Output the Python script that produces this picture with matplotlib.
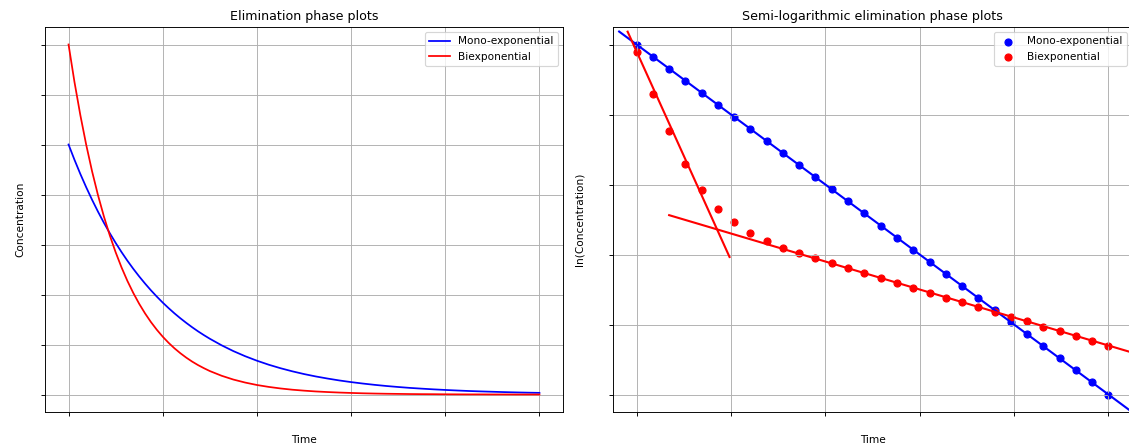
import numpy as np
import matplotlib.pyplot as plt

plt.rcParams['font.size'] = 9
plt.rcParams['axes.titlesize'] = 10.8

# concentration-time curves (linear scale)
time_curve = [0.0, 0.125, 0.25, 0.375, 0.5, 0.625, 0.75, 0.875, 1.0, 1.125, 1.25, 1.375,
              1.5, 1.625, 1.75, 1.875, 2.0, 2.125, 2.25, 2.375, 2.5, 2.625, 2.75, 2.875,
              3.0, 3.25, 3.5, 3.75, 4.0, 4.25, 4.5, 4.75, 5.0, 5.25, 5.5, 5.75, 6.0, 6.25,
              6.5, 6.75, 7.0, 7.25, 7.5, 7.75, 8.0, 8.25, 8.5, 8.75, 9.0, 9.25, 9.5, 9.75,
              10.0]
mono_conc = [5.000, 4.697, 4.412, 4.145, 3.894, 3.658, 3.436, 3.228, 3.033, 2.849, 2.676,
             2.514, 2.362, 2.219, 2.084, 1.958, 1.839, 1.728, 1.623, 1.525, 1.433, 1.346,
             1.264, 1.188, 1.116, 0.985, 0.869, 0.767, 0.677, 0.597, 0.527, 0.465, 0.410,
             0.362, 0.320, 0.282, 0.249, 0.220, 0.194, 0.171, 0.151, 0.133, 0.118, 0.104,
             0.092, 0.081, 0.071, 0.063, 0.056, 0.049, 0.043, 0.038, 0.034]
bi_conc = [7.000, 6.255, 5.590, 4.995, 4.463, 3.988, 3.564, 3.185, 2.846, 2.543, 2.272,
           2.031, 1.815, 1.622, 1.449, 1.295, 1.157, 1.034, 0.924, 0.826, 0.738, 0.659,
           0.589, 0.527, 0.470, 0.376, 0.300, 0.240, 0.191, 0.153, 0.122, 0.097, 0.078,
           0.062, 0.050, 0.040, 0.032, 0.025, 0.020, 0.016, 0.013, 0.010, 0.008, 0.007,
           0.005, 0.004, 0.003, 0.003, 0.002, 0.002, 0.001, 0.001, 0.001]

# sampled points, ln(concentration)
time_pts = [0.0, 0.34, 0.69, 1.03, 1.38, 1.72, 2.07, 2.41, 2.76, 3.10, 3.45, 3.79, 4.14, 4.48,
            4.83, 5.17, 5.52, 5.86, 6.21, 6.55, 6.90, 7.24, 7.59, 7.93, 8.28, 8.62, 8.97,
            9.31, 9.66, 10.0]
mono_ln = [2.000, 1.828, 1.655, 1.483, 1.310, 1.138, 0.966, 0.793, 0.621, 0.448, 0.276,
           0.103, -0.069, -0.241, -0.414, -0.586, -0.759, -0.931, -1.103, -1.276, -1.448,
           -1.621, -1.793, -1.966, -2.138, -2.310, -2.483, -2.655, -2.828, -3.000]
bi_ln = [1.886, 1.292, 0.761, 0.295, -0.075, -0.346, -0.540, -0.692, -0.802, -0.902,
         -0.973, -1.053, -1.124, -1.191, -1.266, -1.333, -1.409, -1.476, -1.543, -1.618,
         -1.685, -1.751, -1.822, -1.889, -1.956, -2.031, -2.098, -2.160, -2.241, -2.302]

# fitted lines: (intercept, slope, t_start, t_end)
mono_fit = (2.00, -0.50, -0.37, 10.6)
alpha_fit = (1.90, -1.49, -0.19, 1.97)
beta_fit = (-0.30, -0.20, 0.69, 10.6)

fig = plt.figure(figsize=(1129 / 84, 448 / 84), dpi=84)
ax1 = fig.add_axes([45 / 1129, 36 / 448, 518 / 1129, 385 / 448])
ax2 = fig.add_axes([613 / 1129, 36 / 448, 519 / 1129, 385 / 448])

ax1.plot(time_curve, mono_conc, color='blue', label='Mono-exponential')
ax1.plot(time_curve, bi_conc, color='red', label='Biexponential')
ax1.set_title('Elimination phase plots')
ax1.set_xlabel('Time')
ax1.set_ylabel('Concentration')
ax1.legend(loc='upper right')
ax1.grid(True)

ax2.scatter(time_pts, mono_ln, color='blue', label='Mono-exponential')
ax2.scatter(time_pts, bi_ln, color='red', label='Biexponential')
ax2.autoscale(False)
for (a, b, t0, t1), c in [(mono_fit, 'blue'), (alpha_fit, 'red'), (beta_fit, 'red')]:
    tt = np.array([t0, t1])
    ax2.plot(tt, a + b * tt, color=c, linewidth=1.8)
ax2.set_title('Semi-logarithmic elimination phase plots')
ax2.set_xlabel('Time')
ax2.set_ylabel('ln(Concentration)')
ax2.legend(loc='upper right')
ax2.grid(True)

for ax in (ax1, ax2):
    ax.tick_params(labelcolor='white')

fig.savefig('out.png', dpi=84)
